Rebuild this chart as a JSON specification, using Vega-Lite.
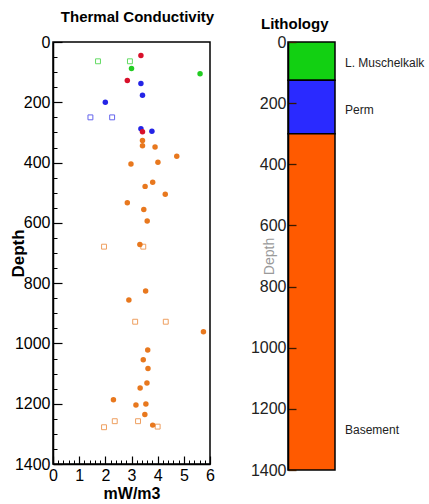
{
  "$schema": "https://vega.github.io/schema/vega-lite/v6.json",
  "background": "white",
  "padding": {"left": 8, "top": 9, "right": 0, "bottom": 0},
  "spacing": 34,
  "datasets": {
    "points": [
      {"tc": 1.72, "depth": 64, "unit": "Muschelkalk", "kind": "open"},
      {"tc": 2.94, "depth": 64, "unit": "Muschelkalk", "kind": "open"},
      {"tc": 3.36, "depth": 45, "unit": "Zechstein", "kind": "filled"},
      {"tc": 2.84, "depth": 128, "unit": "Zechstein", "kind": "filled"},
      {"tc": 3.0, "depth": 88, "unit": "Muschelkalk", "kind": "filled"},
      {"tc": 5.62, "depth": 105, "unit": "Muschelkalk", "kind": "filled"},
      {"tc": 3.36, "depth": 138, "unit": "Perm", "kind": "filled"},
      {"tc": 3.42, "depth": 177, "unit": "Perm", "kind": "filled"},
      {"tc": 2.0, "depth": 200, "unit": "Perm", "kind": "filled"},
      {"tc": 3.36, "depth": 288, "unit": "Perm", "kind": "filled"},
      {"tc": 3.78, "depth": 296, "unit": "Perm", "kind": "filled"},
      {"tc": 3.42, "depth": 298, "unit": "Zechstein", "kind": "filled"},
      {"tc": 1.43, "depth": 250, "unit": "Perm", "kind": "open"},
      {"tc": 2.26, "depth": 250, "unit": "Perm", "kind": "open"},
      {"tc": 3.42, "depth": 327, "unit": "Basement", "kind": "filled"},
      {"tc": 3.42, "depth": 344, "unit": "Basement", "kind": "filled"},
      {"tc": 3.9, "depth": 348, "unit": "Basement", "kind": "filled"},
      {"tc": 4.73, "depth": 379, "unit": "Basement", "kind": "filled"},
      {"tc": 2.98, "depth": 405, "unit": "Basement", "kind": "filled"},
      {"tc": 4.01, "depth": 399, "unit": "Basement", "kind": "filled"},
      {"tc": 3.81, "depth": 465, "unit": "Basement", "kind": "filled"},
      {"tc": 3.52, "depth": 479, "unit": "Basement", "kind": "filled"},
      {"tc": 4.29, "depth": 505, "unit": "Basement", "kind": "filled"},
      {"tc": 2.84, "depth": 533, "unit": "Basement", "kind": "filled"},
      {"tc": 3.47, "depth": 556, "unit": "Basement", "kind": "filled"},
      {"tc": 3.6, "depth": 594, "unit": "Basement", "kind": "filled"},
      {"tc": 3.32, "depth": 672, "unit": "Basement", "kind": "filled"},
      {"tc": 3.54, "depth": 826, "unit": "Basement", "kind": "filled"},
      {"tc": 2.9, "depth": 856, "unit": "Basement", "kind": "filled"},
      {"tc": 5.75, "depth": 961, "unit": "Basement", "kind": "filled"},
      {"tc": 3.62, "depth": 1022, "unit": "Basement", "kind": "filled"},
      {"tc": 3.45, "depth": 1054, "unit": "Basement", "kind": "filled"},
      {"tc": 3.63, "depth": 1083, "unit": "Basement", "kind": "filled"},
      {"tc": 3.59, "depth": 1131, "unit": "Basement", "kind": "filled"},
      {"tc": 3.33, "depth": 1148, "unit": "Basement", "kind": "filled"},
      {"tc": 2.31, "depth": 1187, "unit": "Basement", "kind": "filled"},
      {"tc": 3.17, "depth": 1204, "unit": "Basement", "kind": "filled"},
      {"tc": 3.55, "depth": 1201, "unit": "Basement", "kind": "filled"},
      {"tc": 3.51, "depth": 1236, "unit": "Basement", "kind": "filled"},
      {"tc": 3.81, "depth": 1271, "unit": "Basement", "kind": "filled"},
      {"tc": 1.95, "depth": 679, "unit": "Basement", "kind": "open"},
      {"tc": 3.45, "depth": 679, "unit": "Basement", "kind": "open"},
      {"tc": 3.14, "depth": 928, "unit": "Basement", "kind": "open"},
      {"tc": 4.31, "depth": 928, "unit": "Basement", "kind": "open"},
      {"tc": 2.36, "depth": 1258, "unit": "Basement", "kind": "open"},
      {"tc": 3.25, "depth": 1258, "unit": "Basement", "kind": "open"},
      {"tc": 1.95, "depth": 1278, "unit": "Basement", "kind": "open"},
      {"tc": 4.0, "depth": 1276, "unit": "Basement", "kind": "open"}
    ],
    "litho": [
      {"formation": "L. Muschelkalk", "top": 0, "bottom": 125, "label_depth": 70},
      {"formation": "Perm", "top": 125, "bottom": 300, "label_depth": 222},
      {"formation": "Basement", "top": 300, "bottom": 1400, "label_depth": 1270}
    ]
  },
  "hconcat": [
    {
      "width": 157,
      "height": 422,
      "view": {"stroke": "black", "strokeWidth": 1.5},
      "title": {"text": "Thermal Conductivity", "font": "Liberation Sans", "fontSize": 15, "fontWeight": "bold", "color": "black", "dx": 6, "offset": 9},
      "data": {"name": "points"},
      "layer": [
        {
          "transform": [{"filter": "datum.kind === 'open'"}],
          "mark": {"type": "square", "filled": false, "size": 24, "strokeWidth": 1, "opacity": 0.7},
          "encoding": {
            "x": {
              "field": "tc", "type": "quantitative",
              "scale": {"domain": [0, 6], "nice": false, "zero": false},
              "axis": {
                "orient": "bottom", "title": null, "labels": false, "domain": false, "grid": false, "zindex": 1,
                "values": [0.2,0.4,0.6,0.8,1.2,1.4,1.6,1.8,2.2,2.4,2.6,2.8,3.2,3.4,3.6,3.8,4.2,4.4,4.6,4.8,5.2,5.4,5.6,5.8],
                "tickSize": -4, "tickWidth": 1, "tickColor": "black"
              }
            },
            "y": {
              "field": "depth", "type": "quantitative",
              "scale": {"domain": [0, 1400], "reverse": true, "nice": false},
              "axis": {
                "orient": "left", "title": null, "labels": false, "domain": false, "grid": false, "zindex": 1,
                "values": [50,100,150,250,300,350,450,500,550,650,700,750,850,900,950,1050,1100,1150,1250,1300,1350],
                "tickSize": -4, "tickWidth": 1, "tickColor": "black"
              }
            },
            "color": {
              "field": "unit", "type": "nominal", "legend": null,
              "scale": {"domain": ["Muschelkalk", "Zechstein", "Perm", "Basement"], "range": ["#22cc22", "#d8102a", "#2424e6", "#e8781e"]}
            }
          }
        },
        {
          "transform": [{"filter": "datum.kind === 'filled'"}],
          "mark": {"type": "circle", "size": 30, "opacity": 1},
          "encoding": {
            "x": {
              "field": "tc", "type": "quantitative",
              "axis": {
                "orient": "bottom",
                "title": "mW/m3", "titleFont": "Liberation Sans", "titleFontSize": 16, "titleFontWeight": "bold", "titleColor": "black", "titlePadding": 2,
                "values": [0, 1, 2, 3, 4, 5, 6], "format": "d",
                "labelFont": "Liberation Sans", "labelFontSize": 16, "labelColor": "black", "labelFlush": false,
                "tickSize": -8, "tickWidth": 1.2, "labelPadding": 11,
                "tickColor": "black", "domainColor": "black", "domainWidth": 1.5, "grid": false, "zindex": 1
              }
            },
            "y": {
              "field": "depth", "type": "quantitative",
              "axis": {
                "orient": "left",
                "title": "Depth", "titleFont": "Liberation Sans", "titleFontSize": 17, "titleFontWeight": "bold", "titleColor": "black", "titleX": -26,
                "values": [0, 200, 400, 600, 800, 1000, 1200, 1400], "format": "d",
                "labelFont": "Liberation Sans", "labelFontSize": 16, "labelColor": "black",
                "tickSize": -9, "tickWidth": 1.2, "labelPadding": 12,
                "tickColor": "black", "domainColor": "black", "domainWidth": 1.5, "grid": false, "zindex": 1
              }
            },
            "color": {"field": "unit", "type": "nominal", "legend": null}
          }
        }
      ],
      "resolve": {"axis": {"x": "independent", "y": "independent"}}
    },
    {
      "width": 47,
      "height": 428,
      "view": {"stroke": null},
      "title": {"text": "Lithology", "font": "Liberation Sans", "fontSize": 15, "fontWeight": "bold", "color": "black", "frame": "group", "anchor": "start", "dx": -27, "offset": 2},
      "data": {"name": "litho"},
      "encoding": {
        "y": {
          "field": "top", "type": "quantitative",
          "scale": {"domain": [0, 1400], "reverse": true, "nice": false},
          "axis": {
            "title": "Depth", "titleFont": "Liberation Sans", "titleFontSize": 14, "titleFontWeight": "normal", "titleColor": "#9a9a9a", "titleX": -12,
            "values": [0, 200, 400, 600, 800, 1000, 1200, 1400], "format": "d",
            "labelFont": "Liberation Sans", "labelFontSize": 16, "labelColor": "#222222",
            "tickSize": -8, "tickWidth": 1.3, "labelPadding": 10,
            "tickColor": "#3a1a00", "domainColor": "black", "domainWidth": 1.5, "grid": false, "zindex": 1
          }
        }
      },
      "layer": [
        {
          "mark": {"type": "rect", "stroke": "black", "strokeWidth": 1.5},
          "encoding": {
            "x": {"value": 0},
            "x2": {"value": "width"},
            "y2": {"field": "bottom"},
            "color": {
              "field": "formation", "type": "nominal", "legend": null,
              "scale": {"domain": ["L. Muschelkalk", "Perm", "Basement"], "range": ["#12d012", "#2a2aff", "#ff5a00"]}
            }
          }
        },
        {
          "mark": {"type": "text", "align": "left", "baseline": "middle", "dx": 10, "font": "Liberation Sans", "fontSize": 12, "color": "#222222"},
          "encoding": {
            "y": {"field": "label_depth", "type": "quantitative"},
            "x": {"value": "width"},
            "text": {"field": "formation"}
          }
        }
      ]
    }
  ],
  "resolve": {"scale": {"color": "independent", "y": "independent"}},
  "config": {"axis": {"labelFont": "Liberation Sans"}, "title": {"font": "Liberation Sans"}}
}
